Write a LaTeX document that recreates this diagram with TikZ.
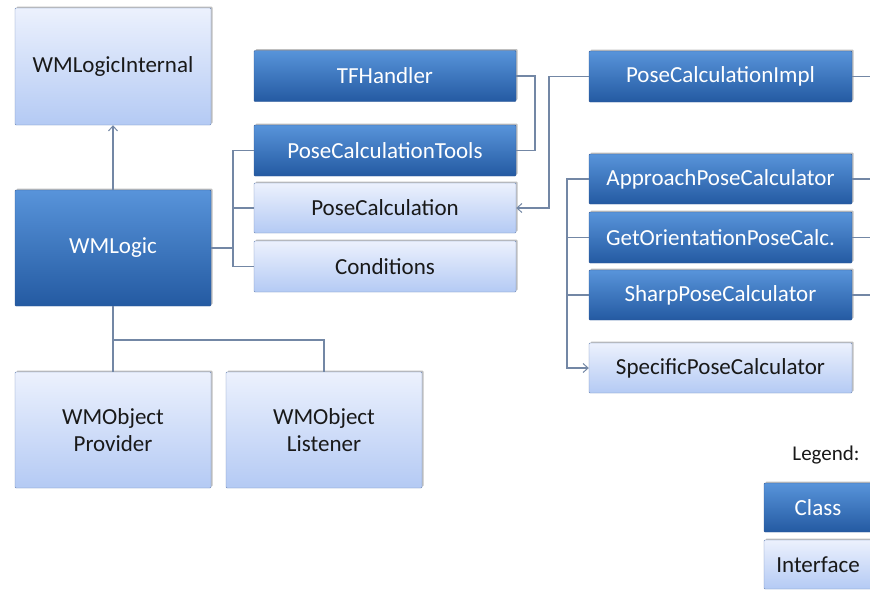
\documentclass[tikz,border=0pt]{standalone}
\usepackage{fontspec}
\setmainfont{Carlito}
\usetikzlibrary{arrows.meta,shadows}
\definecolor{clsTop}{RGB}{88,148,218}
\definecolor{clsBot}{RGB}{36,90,162}
\definecolor{clsBorder}{RGB}{50,90,150}
\definecolor{ifTop}{RGB}{236,241,253}
\definecolor{ifBot}{RGB}{180,202,244}
\definecolor{ifBorder}{RGB}{115,140,185}
\definecolor{lineCol}{RGB}{115,135,165}
\tikzset{
  box/.style={rounded corners=1pt, inner sep=0pt, align=center,
    font=\fontsize{23}{27}\selectfont,
    drop shadow={shadow xshift=1.5pt, shadow yshift=1.5pt, opacity=0.25, fill=black}},
  cls/.style={box, draw=clsBorder, top color=clsTop, bottom color=clsBot, text=white},
  iface/.style={box, draw=ifBorder, top color=ifTop, bottom color=ifBot, text=black!90},
  conn/.style={draw=lineCol, line width=1.1pt},
  opentip/.style={-{Straight Barb[length=5pt,width=9pt,line width=1pt]}}
}
\begin{document}
\begin{tikzpicture}[x=1pt,y=-1pt]
\useasboundingbox (0,0) rectangle (870,590);
\clip (0,0) rectangle (870,590);
\fill[white] (0,0) rectangle (870,590);
% left column
\node[iface, minimum width=196pt, minimum height=117pt] (wmi) at (113,66.5) {WMLogicInternal};
\node[cls, minimum width=196pt, minimum height=116pt] (wml) at (113,248) {WMLogic};
\node[iface, minimum width=196pt, minimum height=116pt] (prov) at (113,430) {WMObject\\Provider};
\node[iface, minimum width=196pt, minimum height=116pt] (list) at (324,430) {WMObject\\Listener};
% middle column
\node[cls, minimum width=262pt, minimum height=51pt] (tf) at (385,76) {TFHandler};
\node[cls, minimum width=262pt, minimum height=51pt] (pct) at (385,150.5) {PoseCalculationTools};
\node[iface, minimum width=262pt, minimum height=50pt] (pc) at (385,208) {PoseCalculation};
\node[iface, minimum width=262pt, minimum height=51pt] (cond) at (385,266.5) {Conditions};
% right column
\node[cls, minimum width=263pt, minimum height=51pt] (impl) at (720.5,76.5) {PoseCalculationImpl};
\node[cls, minimum width=263pt, minimum height=50pt] (app) at (720.5,179) {ApproachPoseCalculator};
\node[cls, minimum width=263pt, minimum height=51pt] (get) at (720.5,237.5) {GetOrientationPoseCalc.};
\node[cls, minimum width=263pt, minimum height=50pt] (sharp) at (720.5,295) {SharpPoseCalculator};
\node[iface, minimum width=263pt, minimum height=50pt] (spec) at (720.5,368) {SpecificPoseCalculator};
% legend
\node[font=\fontsize{21}{25}\selectfont, text=black!90] (leg) at (826,455) {Legend:};
\node[cls, minimum width=108pt, minimum height=49pt] (lcls) at (818,507.5) {Class};
\node[iface, minimum width=108pt, minimum height=49pt] (lif) at (818,564.5) {Interface};
% helper coordinates
\coordinate (bx) at (233,0);
\coordinate (tx) at (535,0);
\coordinate (jx) at (549,0);
\coordinate (kx) at (567,0);
\coordinate (edge) at (872,0);
\coordinate (jy) at (0,340);
% connectors
\draw[conn, opentip] (wml.north) -- (wmi.south);
\draw[conn] (wml.east) -- (bx|-wml.east);
\draw[conn] (pct.west) -- (bx|-pct.west) -- (bx|-cond.west) -- (cond.west);
\draw[conn] (pc.west) -- (bx|-pc.west);
\draw[conn] (tf.east) -- (tx|-tf.east) -- (tx|-pct.east) -- (pct.east);
\draw[conn, opentip] (impl.west) -- (jx|-impl.west) -- (jx|-pc.east) -- (pc.east);
\draw[conn] (impl.east) -- (edge|-impl.east);
\draw[conn] (app.east) -- (edge|-app.east);
\draw[conn] (get.east) -- (edge|-get.east);
\draw[conn] (sharp.east) -- (edge|-sharp.east);
\draw[conn, opentip] (app.west) -- (kx|-app.west) -- (kx|-spec.west) -- (spec.west);
\draw[conn] (get.west) -- (kx|-get.west);
\draw[conn] (sharp.west) -- (kx|-sharp.west);
\draw[conn] (wml.south) -- (prov.north);
\draw[conn] (wml.south|-jy) -- (list.north|-jy) -- (list.north);
\end{tikzpicture}
\end{document}
